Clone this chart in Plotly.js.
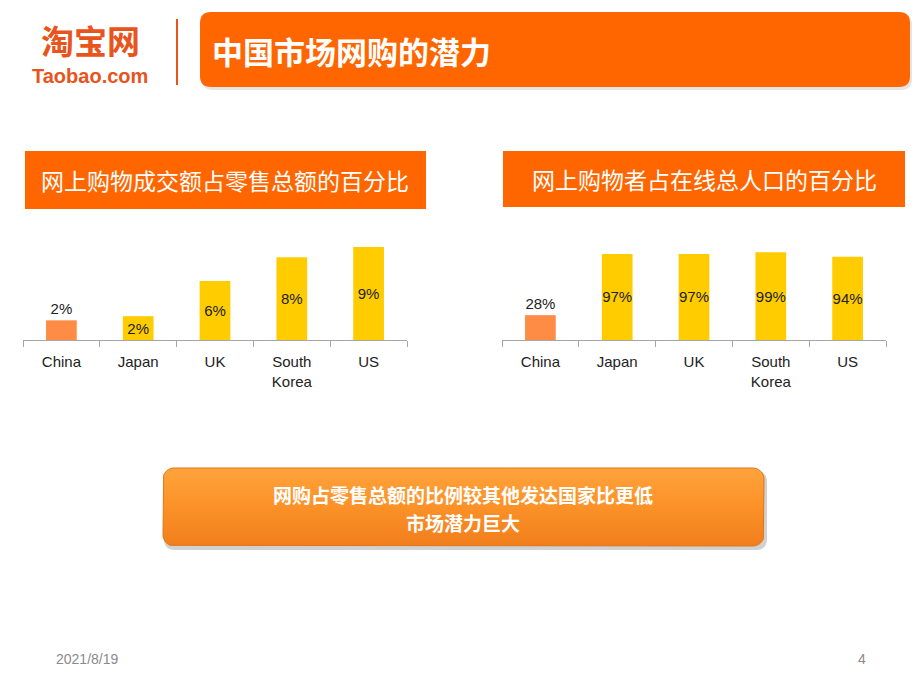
<!DOCTYPE html>
<html>
<head>
<meta charset="utf-8">
<script src="https://cdn.plot.ly/plotly-3.0.1.min.js"></script>
<style>html,body{margin:0;padding:0;background:#fff;}#chart{width:920px;height:690px;}</style>
</head>
<body>
<div id="chart"></div>
<script>
// ---- data ----
const categories = ['China', 'Japan', 'UK', 'South<br>Korea', 'US'];
const retailShare = [1.9, 2.3, 5.7, 8.0, 9.0];           // 网上购物成交额占零售总额的百分比 (%)
const retailLabels = ['2%', '2%', '6%', '8%', '9%'];
const shopperShare = [28, 97, 97, 99, 94];               // 网上购物者占在线总人口的百分比 (%)
const shopperLabels = ['28%', '97%', '97%', '99%', '94%'];
const barColors = ['#FF8C45', '#FFCC00', '#FFCC00', '#FFCC00', '#FFCC00'];
const labelPositions = ['outside', 'inside', 'inside', 'inside', 'inside'];

const mainTitle = '中国市场网购的潜力';
const leftTitle = '网上购物成交额占零售总额的百分比';
const rightTitle = '网上购物者占在线总人口的百分比';
const conclusionLine1 = '网购占零售总额的比例较其他发达国家比更低';
const conclusionLine2 = '市场潜力巨大';
const dateText = '2021/8/19';
const pageNo = '4';

const W = 920, H = 690;
const latin = 'Liberation Sans, Arial, sans-serif';
const cjk = 'Noto Sans CJK SC, sans-serif';

function roundRectPath(x0, y0, x1, y1, r) {
  return `M${x0 + r},${y0} L${x1 - r},${y0} Q${x1},${y0} ${x1},${y0 + r} L${x1},${y1 - r} Q${x1},${y1} ${x1 - r},${y1} L${x0 + r},${y1} Q${x0},${y1} ${x0},${y1 - r} L${x0},${y0 + r} Q${x0},${y0} ${x0 + r},${y0} Z`;
}
function roundRectPoints(x0, y0, x1, y1, r) {
  const xs = [], ys = [];
  const corners = [[x1 - r, y0 + r, -90, 0], [x1 - r, y1 - r, 0, 90], [x0 + r, y1 - r, 90, 180], [x0 + r, y0 + r, 180, 270]];
  corners.forEach(([cx, cy, a0, a1]) => {
    for (let a = a0; a <= a1; a += 10) {
      const t = a * Math.PI / 180;
      xs.push(cx + r * Math.cos(t)); ys.push(cy + r * Math.sin(t));
    }
  });
  xs.push(xs[0]); ys.push(ys[0]);
  return {xs, ys};
}

const btn = roundRectPoints(163, 468, 764, 546, 11);

const barTrace = (vals, labels, xa, ya) => ({
  type: 'bar', x: categories, y: vals, text: labels,
  textposition: labelPositions, insidetextanchor: 'middle', constraintext: 'none', cliponaxis: false,
  textangle: 0, textfont: {family: latin, size: 15, color: '#222'},
  marker: {color: barColors}, xaxis: xa, yaxis: ya, hoverinfo: 'skip'
});

const traces = [
  {
    type: 'scatter', mode: 'lines', x: btn.xs, y: btn.ys, xaxis: 'x3', yaxis: 'y3',
    fill: 'toself', line: {color: '#E07518', width: 1},
    fillgradient: {type: 'vertical', colorscale: [[0, '#F07E1C'], [0.5, '#FC9128'], [1, '#FFA33C']]},
    hoverinfo: 'skip', showlegend: false
  },
  barTrace(retailShare, retailLabels, 'x', 'y'),
  barTrace(shopperShare, shopperLabels, 'x2', 'y2')
];

const catAxis = (dom, anchor) => ({
  domain: dom, anchor: anchor, type: 'category', range: [-0.5, 4.5],
  showline: true, linecolor: '#A6A6A6', linewidth: 1,
  ticks: 'outside', tickson: 'boundaries', ticklen: 6, tickcolor: '#A6A6A6', tickwidth: 1,
  ticklabelstandoff: 8,
  tickfont: {family: latin, size: 15, color: '#222'}, showgrid: false, zeroline: false, fixedrange: true
});

const ann = (x, y, text, font, extra) => Object.assign({xref: 'x3', yref: 'y3', x, y, text, showarrow: false, borderpad: 0, font}, extra || {});

const layout = {
  width: W, height: H, margin: {l: 0, r: 0, t: 0, b: 0},
  paper_bgcolor: '#ffffff', plot_bgcolor: 'rgba(0,0,0,0)', showlegend: false,
  bargap: 0.6, font: {family: latin},
  xaxis: catAxis([23 / W, 407 / W], 'y'),
  yaxis: {domain: [1 - 340 / H, 1 - 220 / H], range: [0, 11.6], visible: false, fixedrange: true},
  xaxis2: catAxis([502 / W, 886 / W], 'y2'),
  yaxis2: {domain: [1 - 340 / H, 1 - 220 / H], range: [0, 135.3], visible: false, fixedrange: true},
  xaxis3: {domain: [0, 1], range: [0, W], visible: false, fixedrange: true, anchor: 'y3'},
  yaxis3: {domain: [0, 1], range: [H, 0], visible: false, fixedrange: true, anchor: 'x3'},
  shapes: [
    // header
    {type: 'path', xref: 'x3', yref: 'y3', path: roundRectPath(202, 14, 912, 90, 11), fillcolor: 'rgba(0,0,0,0.10)', line: {width: 0}, layer: 'below'},
    {type: 'path', xref: 'x3', yref: 'y3', path: roundRectPath(200, 12, 910, 87, 11), fillcolor: '#FF6600', line: {width: 0}, layer: 'below'},
    // logo divider
    {type: 'line', xref: 'x3', yref: 'y3', x0: 177, x1: 177, y0: 19, y1: 85, line: {color: '#E8541C', width: 2}},
    // sub titles
    {type: 'rect', xref: 'x3', yref: 'y3', x0: 25, x1: 426, y0: 151, y1: 209, fillcolor: '#FF6600', line: {width: 0}, layer: 'below'},
    {type: 'rect', xref: 'x3', yref: 'y3', x0: 503, x1: 905, y0: 151, y1: 207, fillcolor: '#FF6600', line: {width: 0}, layer: 'below'},
    // button shadow
    {type: 'path', xref: 'x3', yref: 'y3', path: roundRectPath(164, 471, 767, 550, 11), fillcolor: 'rgba(0,0,0,0.18)', line: {width: 0}, layer: 'below'}
  ],
  annotations: [
    ann(90, 40, '<b>淘宝网</b>', {family: cjk, size: 33, color: '#E8541C'}),
    ann(90, 76, '<b>Taobao.com</b>', {family: latin, size: 20, color: '#E8541C'}),
    ann(211, 50, '<b>' + mainTitle + '</b>', {family: cjk, size: 31, color: '#ffffff'}, {xanchor: 'left'}),
    ann(225, 180, leftTitle, {family: cjk, size: 23, color: '#ffffff'}),
    ann(704, 179, rightTitle, {family: cjk, size: 23, color: '#ffffff'}),
    ann(463, 494, '<b>' + conclusionLine1 + '</b>', {family: cjk, size: 19, color: '#ffffff'}),
    ann(463, 522, '<b>' + conclusionLine2 + '</b>', {family: cjk, size: 19, color: '#ffffff'}),
    ann(55, 659, dateText, {family: latin, size: 14, color: '#8A8A8A'}, {xanchor: 'left'}),
    ann(862, 659, pageNo, {family: latin, size: 14, color: '#8A8A8A'})
  ]
};

Plotly.newPlot('chart', traces, layout, {staticPlot: true, displayModeBar: false});
</script>
</body>
</html>
